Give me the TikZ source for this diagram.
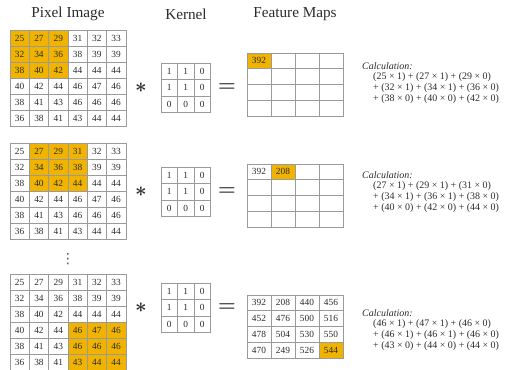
\documentclass[tikz,border=0pt]{standalone}
\usepackage{fontspec}
\setmainfont{Liberation Serif}
\newfontfamily\symfont{DejaVu Sans}
\usetikzlibrary{backgrounds}
\definecolor{ink}{HTML}{2B2B2B}
\definecolor{gridline}{HTML}{9A9A9A}
\definecolor{hilite}{HTML}{F0B400}
\tikzset{
  every node/.style={text=ink},
  title/.style={font=\fontsize{13}{15}\selectfont},
  cell/.style={draw=gridline, line width=0.5pt, inner sep=0pt, outer sep=0pt, font=\footnotesize},
  pixcell/.style={cell, minimum width=0.579cm, minimum height=0.48cm},
  kercell/.style={cell, minimum width=0.495cm, minimum height=0.495cm},
  mapcell/.style={cell, minimum width=0.72cm, minimum height=0.4725cm},
  val/.style={font=\footnotesize, inner sep=0pt},
  op/.style={font=\LARGE\boldmath},
  calc/.style={font=\fontsize{8.5}{9.2}\selectfont, align=left, anchor=north west, inner sep=0pt},
}

\begin{document}
\begin{tikzpicture}[x=0.03cm, y=-0.03cm]
\useasboundingbox (0,0) rectangle (505,370);

% --- column titles ---
\node[title] (t-pix) at (68,14) {Pixel Image};
\node[title] (t-ker) at (186,14) {Kernel};
\node[title] (t-map) at (295,14) {Feature Maps};

% --- pixel images ---
\foreach \g/\top in {a/30, b/143, c/274} {
  \foreach \vals [count=\r] in {{25,27,29,31,32,33},{32,34,36,38,39,39},{38,40,42,44,44,44},
                                {40,42,44,46,47,46},{38,41,43,46,46,46},{36,38,41,43,44,44}} {
    \foreach \v [count=\c] in \vals
      \node[pixcell] (\g-\r-\c) at ({10+19.3*(\c-0.5)},{\top+16*(\r-0.5)}) {\v};
  }
}
\node[font=\symfont\large, text=ink!80] (dots) at (68,259) {⋮};

% --- kernels ---
\foreach \g/\top in {ka/63, kb/167, kc/283} {
  \foreach \vals [count=\r] in {{1,1,0},{1,1,0},{0,0,0}} {
    \foreach \v [count=\c] in \vals
      \node[kercell] (\g-\r-\c) at ({161+16.5*(\c-0.5)},{\top+16.5*(\r-0.5)}) {\v};
  }
}

% --- operators ---
\foreach \g/\mid in {a/87.5, b/191.5, c/307.5} {
  \node[op] (star-\g) at (141,\mid) {$\ast$};
  \node[op] (eq-\g) at (227,\mid) {$=$};
}

% --- feature maps ---
\foreach \g/\top in {fa/53, fb/164, fc/295} {
  \foreach \r in {1,...,4} {
    \foreach \c in {1,...,4}
      \node[mapcell] (\g-\r-\c) at ({247+24*(\c-0.5)},{\top+15.75*(\r-0.5)}) {};
  }
}
\node[val] (fa-v) at (fa-1-1) {392};
\node[val] (fb-v1) at (fb-1-1) {392};
\node[val] (fb-v2) at (fb-1-2) {208};
\foreach \vals [count=\r] in {{392,208,440,456},{452,476,500,516},{478,504,530,550},{470,249,526,544}} {
  \foreach \v [count=\c] in \vals
    \node[val] (fcv-\r-\c) at (fc-\r-\c) {\v};
}

% --- highlighted windows ---
\begin{scope}[on background layer]
\fill[hilite] (a-1-1.north west) rectangle (a-3-3.south east);
\fill[hilite] (b-1-2.north west) rectangle (b-3-4.south east);
\fill[hilite] (c-4-4.north west) rectangle (c-6-6.south east);
\fill[hilite] (fa-1-1.north west) rectangle (fa-1-1.south east);
\fill[hilite] (fb-1-2.north west) rectangle (fb-1-2.south east);
\fill[hilite] (fc-4-4.north west) rectangle (fc-4-4.south east);
\end{scope}

% --- calculations ---
\node[calc] (calc-a) at (362,62) {\textit{Calculation:}\\
  \hspace*{3.3mm}(25 × 1) + (27 × 1) + (29 × 0)\\
  \hspace*{3.3mm}+ (32 × 1) + (34 × 1) + (36 × 0)\\
  \hspace*{3.3mm}+ (38 × 0) + (40 × 0) + (42 × 0)};
\node[calc] (calc-b) at (362,171) {\textit{Calculation:}\\
  \hspace*{3.3mm}(27 × 1) + (29 × 1) + (31 × 0)\\
  \hspace*{3.3mm}+ (34 × 1) + (36 × 1) + (38 × 0)\\
  \hspace*{3.3mm}+ (40 × 0) + (42 × 0) + (44 × 0)};
\node[calc] (calc-c) at (362,309) {\textit{Calculation:}\\
  \hspace*{3.3mm}(46 × 1) + (47 × 1) + (46 × 0)\\
  \hspace*{3.3mm}+ (46 × 1) + (46 × 1) + (46 × 0)\\
  \hspace*{3.3mm}+ (43 × 0) + (44 × 0) + (44 × 0)};

\end{tikzpicture}
\end{document}
